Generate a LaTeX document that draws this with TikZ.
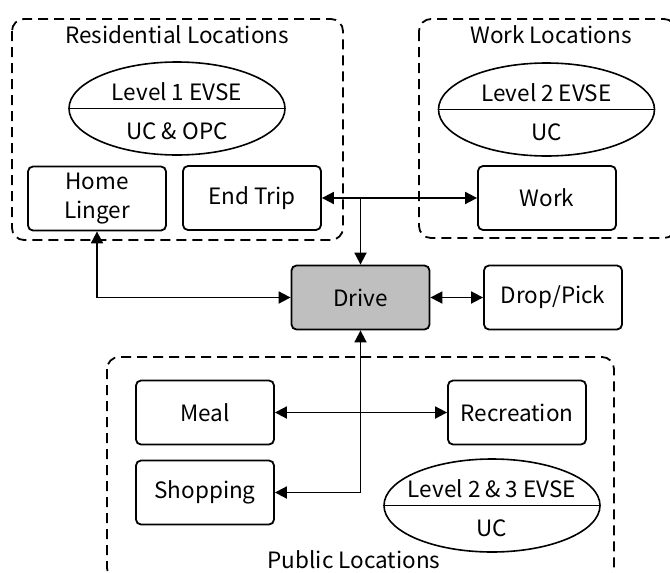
\documentclass[tikz,border=0pt]{standalone}
\usepackage{fontspec}
\setmainfont{Noto Sans CJK SC}
\usepackage{tikz}
\usetikzlibrary{shapes,arrows.meta,positioning}
\usetikzlibrary{calc}

\begin{document}
\begin{tikzpicture}
  [
    x=1pt, y=-1pt,
    font=\fontsize{22.5}{29}\selectfont,
    >={Triangle[length=12pt,width=12pt]},
    Group/.style={draw=black, line width=1.8pt, dash pattern=on 10pt off 6pt, rounded corners=12pt},
    Box/.style={rectangle, draw=black, line width=1.8pt, rounded corners=5pt, minimum width=138pt, minimum height=64pt, align=center, inner sep=0pt},
    Gray/.style={Box, fill=gray!50},
    Charger/.style={ellipse, draw=black, line width=1.6pt, minimum width=216pt, minimum height=93pt, inner sep=0pt},
    Link/.style={draw, line width=1.8pt}
  ]
  \useasboundingbox (0,0) rectangle (670,573);

  % Groups
  \draw[Group] (12,19) rectangle (343,240);
  \draw[Group] (419,19) rectangle (676,238);
  \draw[Group] (107,357) rectangle (614,580);
  \node[anchor=base] (restitle) at (177,43) {Residential Locations};
  \node[anchor=base] (worktitle) at (551,43) {Work Locations};
  \node[anchor=base] (pubtitle) at (354,568) {Public Locations};

  % Chargers
  \node[Charger] (evse1) at (177,108.5) {};
  \node[Charger] (evse2) at (546.5,109.5) {};
  \node[Charger] (evse3) at (492,505.5) {};
  \foreach \e/\top/\bot in {evse1/Level 1 EVSE/UC \& OPC, evse2/Level 2 EVSE/UC, evse3/Level 2 \& 3 EVSE/UC}
  {
    \draw[line width=1.6pt] (\e.west) -- (\e.east);
    \node[anchor=base] (\e-top) at ($(\e.center)+(0,-8)$) {\top};
    \node[anchor=base] (\e-bot) at ($(\e.center)+(0,31)$) {\bot};
  }

  % Nodes
  \node[Box] (home) at (97,198.5) {Home\\Linger};
  \node[Box] (endtrip) at (252,198) {End Trip};
  \node[Box] (work) at (547,198) {Work};
  \node[Gray] (drive) at (360.5,297.5) {Drive};
  \node[Box] (drop) at (553,297.5) {Drop/Pick};
  \node[Box] (meal) at (205,412.5) {Meal};
  \node[Box] (rec) at (517,412.5) {Recreation};
  \node[Box] (shop) at (205,492.5) {Shopping};
  \coordinate (split) at (drive.north |- endtrip.east);

  % Lines
  \path [<->, Link] (endtrip.east) -- (work.west);
  \path [->, Link] (split) -- (drive.north);
  \path [<->, Link] (home.south) |- (drive.west);
  \path [<->, Link] (drive.east) -- (drop.west);
  \path [<->, Link] (drive.south) |- (shop.east);
  \path [<->, Link] (meal.east) -- (rec.west);

\end{tikzpicture}
\end{document}
